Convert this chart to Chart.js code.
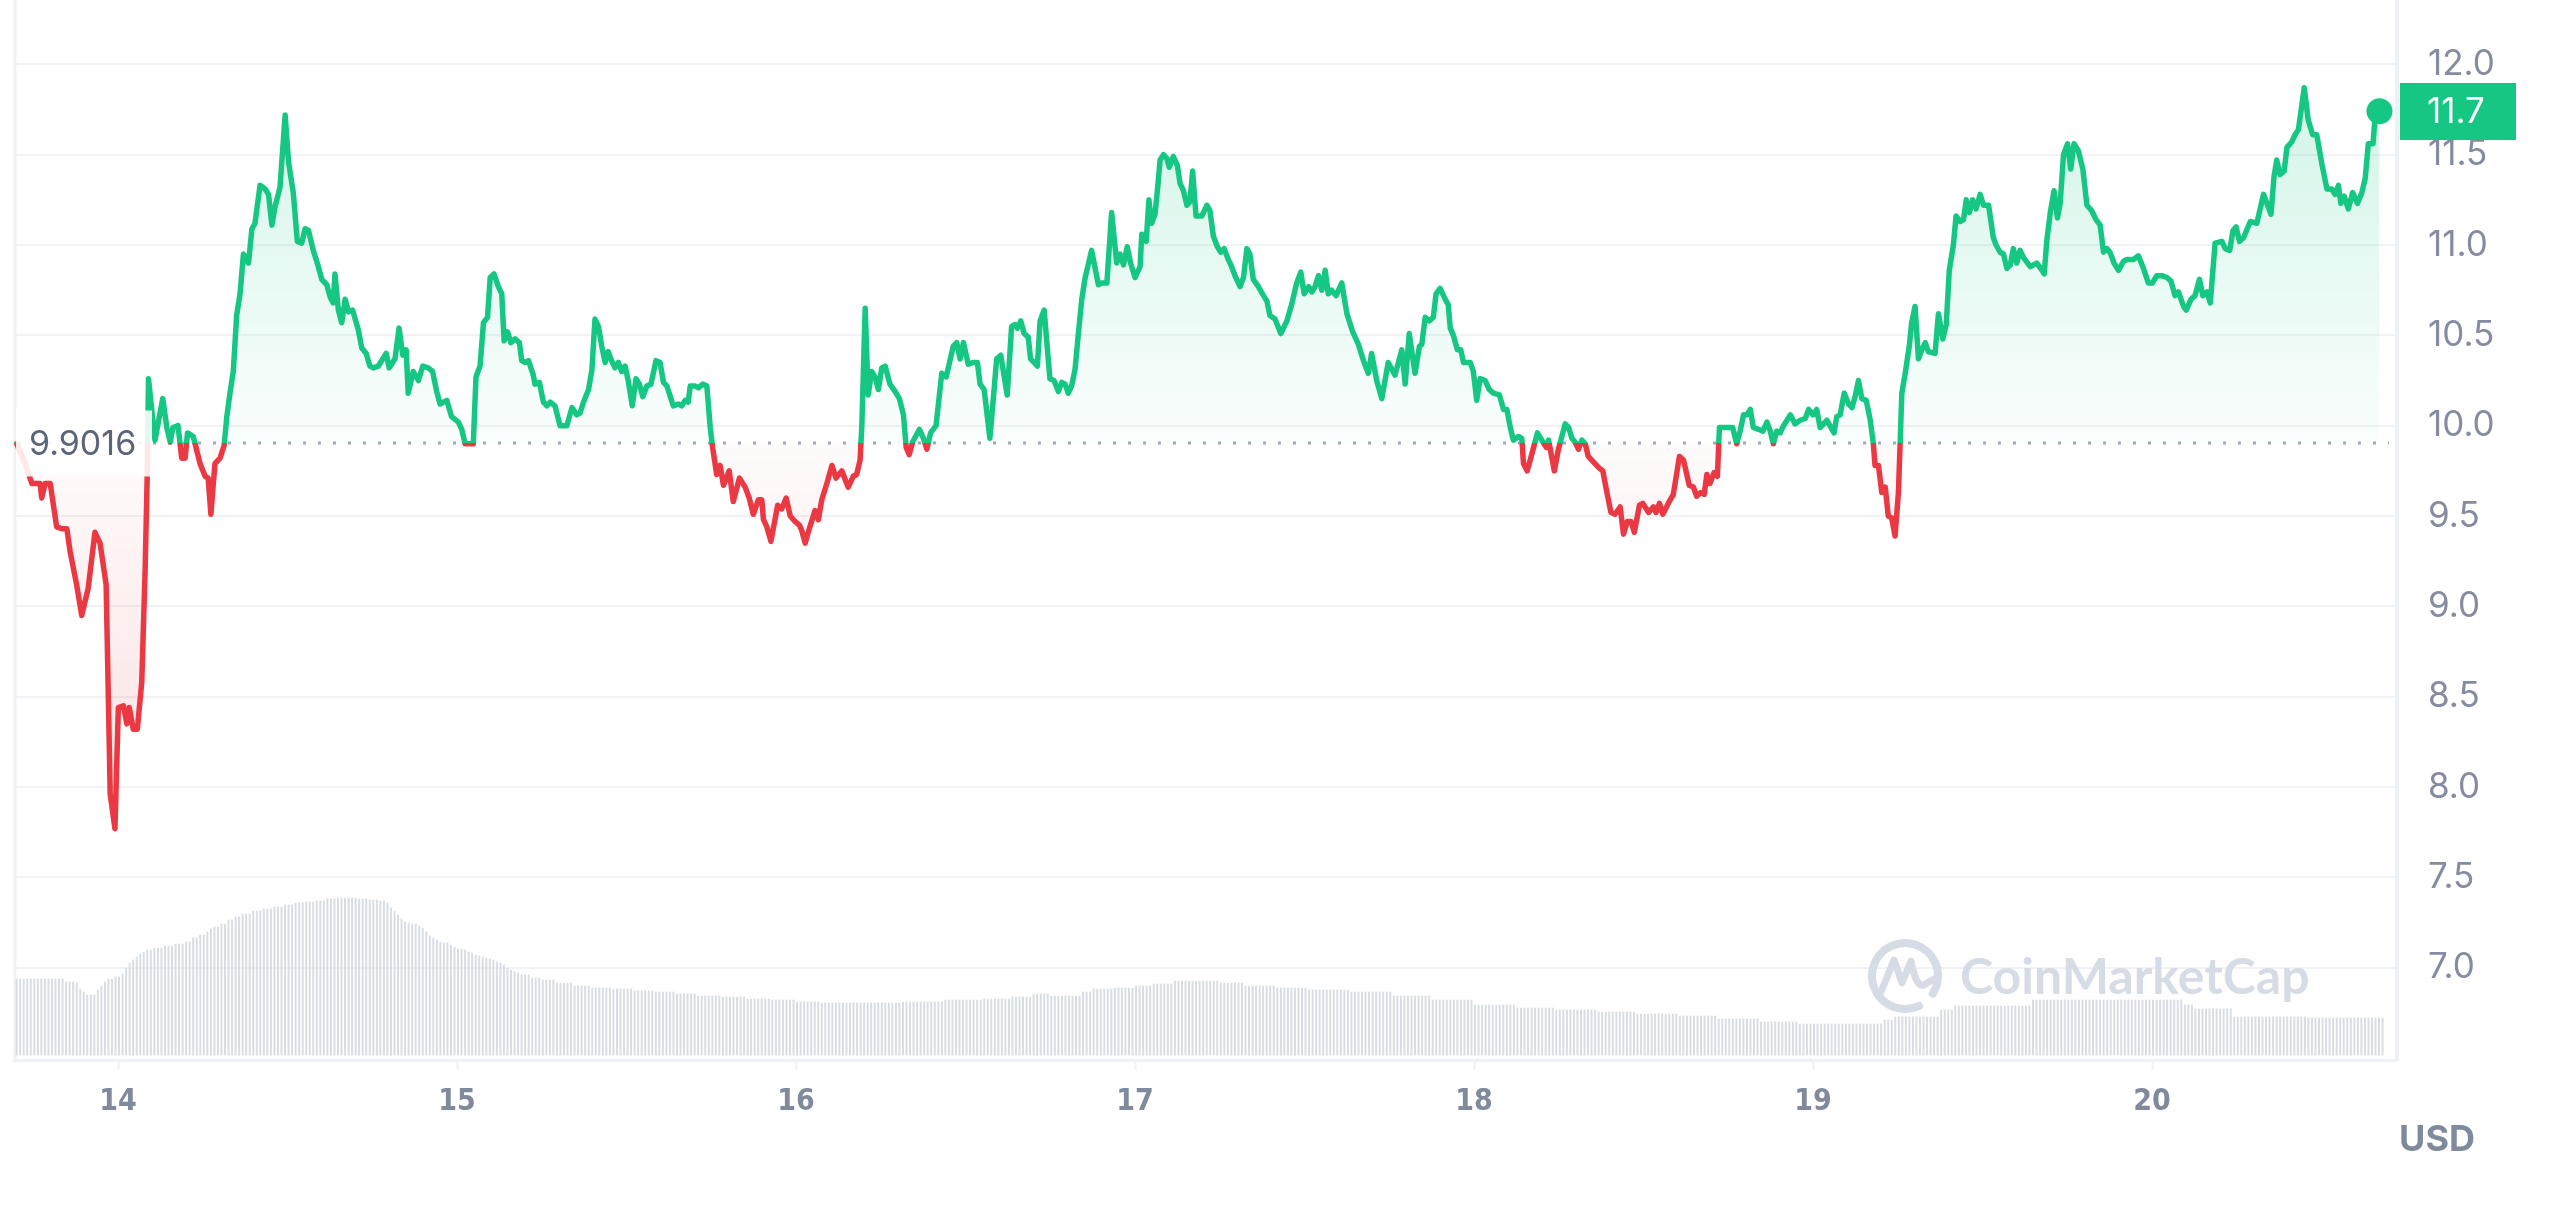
<!DOCTYPE html>
<html>
<head>
<meta charset="utf-8">
<title>Price chart</title>
<script src="https://cdn.jsdelivr.net/npm/chart.js@4.4.1/dist/chart.umd.min.js"></script>
<style>
  html, body { margin: 0; padding: 0; background: #ffffff; }
  #wrap { position: relative; width: 2560px; height: 1206px; }
</style>
</head>
<body>
<div id="wrap"><canvas id="priceChart"></canvas></div>
<script>
// ========== data ==========

// opening price of the period (dotted reference line)
const openPrice = 9.9016;

const dayTicks = [14, 15, 16, 17, 18, 19, 20];
const priceTicks = [7.0, 7.5, 8.0, 8.5, 9.0, 9.5, 10.0, 10.5, 11.0, 11.5, 12.0];

// time in days of the month
const priceTimes = [
  13.701, 13.726, 13.746, 13.770, 13.775, 13.785, 13.800, 13.819, 13.834, 13.849,
  13.859, 13.878, 13.893, 13.912, 13.932, 13.947, 13.965, 13.977, 13.991, 14.001,
  14.016, 14.026, 14.033, 14.045, 14.057, 14.070, 14.080, 14.086, 14.090, 14.100,
  14.109, 14.132, 14.144, 14.154, 14.162, 14.177, 14.188, 14.198, 14.205, 14.222,
  14.242, 14.257, 14.266, 14.274, 14.286, 14.301, 14.313, 14.321, 14.331, 14.340,
  14.350, 14.360, 14.370, 14.385, 14.395, 14.404, 14.419, 14.434, 14.444, 14.454,
  14.463, 14.478, 14.493, 14.503, 14.517, 14.529, 14.542, 14.552, 14.562, 14.576,
  14.591, 14.601, 14.616, 14.626, 14.635, 14.640, 14.650, 14.660, 14.670, 14.680,
  14.692, 14.709, 14.719, 14.732, 14.743, 14.753, 14.768, 14.791, 14.800, 14.817,
  14.829, 14.840, 14.850, 14.856, 14.871, 14.886, 14.899, 14.915, 14.928, 14.940,
  14.950, 14.970, 14.984, 15.004, 15.014, 15.024, 15.048, 15.056, 15.068, 15.078,
  15.090, 15.098, 15.109, 15.122, 15.132, 15.139, 15.149, 15.159, 15.171, 15.184,
  15.191, 15.201, 15.211, 15.225, 15.230, 15.243, 15.255, 15.265, 15.275, 15.289,
  15.304, 15.324, 15.339, 15.353, 15.363, 15.373, 15.388, 15.398, 15.407, 15.417,
  15.427, 15.437, 15.446, 15.456, 15.466, 15.476, 15.486, 15.496, 15.505, 15.517,
  15.528, 15.538, 15.548, 15.560, 15.572, 15.587, 15.599, 15.609, 15.619, 15.638,
  15.653, 15.663, 15.673, 15.682, 15.688, 15.702, 15.712, 15.725, 15.737, 15.747,
  15.754, 15.766, 15.776, 15.786, 15.803, 15.815, 15.833, 15.850, 15.862, 15.874,
  15.889, 15.899, 15.904, 15.914, 15.926, 15.946, 15.958, 15.971, 15.983, 15.997,
  16.010, 16.017, 16.027, 16.036, 16.056, 16.066, 16.076, 16.091, 16.106, 16.118,
  16.135, 16.154, 16.169, 16.179, 16.189, 16.194, 16.204, 16.213, 16.223, 16.233,
  16.243, 16.253, 16.263, 16.277, 16.292, 16.305, 16.317, 16.325, 16.334, 16.344,
  16.364, 16.376, 16.386, 16.397, 16.413, 16.430, 16.443, 16.464, 16.474, 16.484,
  16.494, 16.508, 16.523, 16.535, 16.543, 16.555, 16.572, 16.592, 16.604, 16.623,
  16.636, 16.646, 16.653, 16.663, 16.673, 16.685, 16.692, 16.702, 16.712, 16.720,
  16.732, 16.740, 16.749, 16.761, 16.774, 16.784, 16.794, 16.803, 16.813, 16.823,
  16.833, 16.843, 16.853, 16.872, 16.892, 16.902, 16.917, 16.931, 16.946, 16.956,
  16.966, 16.977, 16.987, 17.000, 17.015, 17.020, 17.033, 17.041, 17.049, 17.059,
  17.067, 17.074, 17.084, 17.094, 17.101, 17.113, 17.125, 17.133, 17.143, 17.153,
  17.162, 17.170, 17.180, 17.197, 17.212, 17.221, 17.231, 17.243, 17.253, 17.263,
  17.275, 17.285, 17.295, 17.310, 17.320, 17.330, 17.339, 17.349, 17.364, 17.379,
  17.389, 17.398, 17.413, 17.430, 17.448, 17.462, 17.477, 17.489, 17.499, 17.512,
  17.522, 17.531, 17.541, 17.551, 17.561, 17.570, 17.580, 17.593, 17.610, 17.625,
  17.642, 17.659, 17.674, 17.688, 17.698, 17.713, 17.728, 17.747, 17.767, 17.787,
  17.797, 17.809, 17.826, 17.839, 17.846, 17.856, 17.868, 17.880, 17.888, 17.900,
  17.915, 17.924, 17.930, 17.939, 17.951, 17.961, 17.969, 17.989, 17.998, 18.008,
  18.018, 18.033, 18.045, 18.057, 18.075, 18.087, 18.097, 18.107, 18.116, 18.131,
  18.141, 18.146, 18.157, 18.173, 18.187, 18.200, 18.213, 18.220, 18.237, 18.249,
  18.269, 18.279, 18.289, 18.298, 18.308, 18.318, 18.328, 18.337, 18.352, 18.367,
  18.380, 18.392, 18.404, 18.416, 18.431, 18.441, 18.452, 18.463, 18.473, 18.488,
  18.498, 18.515, 18.529, 18.537, 18.547, 18.557, 18.573, 18.588, 18.606, 18.618,
  18.635, 18.647, 18.657, 18.669, 18.679, 18.687, 18.696, 18.708, 18.718, 18.724,
  18.734, 18.744, 18.763, 18.775, 18.785, 18.795, 18.805, 18.815, 18.824, 18.839,
  18.852, 18.864, 18.874, 18.883, 18.893, 18.903, 18.913, 18.933, 18.947, 18.962,
  18.977, 18.987, 19.000, 19.011, 19.021, 19.041, 19.062, 19.070, 19.080, 19.092,
  19.105, 19.115, 19.124, 19.134, 19.144, 19.157, 19.169, 19.178, 19.183, 19.193,
  19.203, 19.213, 19.222, 19.232, 19.242, 19.252, 19.262, 19.272, 19.284, 19.291,
  19.301, 19.311, 19.321, 19.331, 19.340, 19.360, 19.370, 19.383, 19.393, 19.402,
  19.414, 19.422, 19.434, 19.444, 19.452, 19.461, 19.471, 19.481, 19.493, 19.503,
  19.518, 19.532, 19.540, 19.552, 19.562, 19.572, 19.582, 19.591, 19.601, 19.611,
  19.621, 19.641, 19.660, 19.672, 19.682, 19.690, 19.700, 19.711, 19.721, 19.729,
  19.739, 19.751, 19.760, 19.770, 19.783, 19.796, 19.808, 19.822, 19.835, 19.847,
  19.857, 19.867, 19.876, 19.888, 19.901, 19.916, 19.926, 19.945, 19.960, 19.975,
  19.989, 20.001, 20.014, 20.029, 20.044, 20.056, 20.068, 20.078, 20.093, 20.101,
  20.115, 20.127, 20.140, 20.150, 20.162, 20.172, 20.186, 20.206, 20.216, 20.229,
  20.239, 20.248, 20.258, 20.270, 20.290, 20.309, 20.329, 20.341, 20.351, 20.360,
  20.368, 20.378, 20.390, 20.398, 20.412, 20.422, 20.432, 20.449, 20.461, 20.474,
  20.486, 20.501, 20.516, 20.530, 20.540, 20.550, 20.557, 20.567, 20.579, 20.592,
  20.606, 20.619, 20.629, 20.638, 20.652, 20.658, 20.671
];

const priceValues = [
  9.9016, 9.79, 9.68, 9.68, 9.60, 9.68, 9.68, 9.44, 9.43, 9.43,
  9.30, 9.12, 8.95, 9.10, 9.41, 9.35, 9.12, 7.96, 7.77, 8.44,
  8.45, 8.35, 8.44, 8.32, 8.32, 8.58, 9.20, 9.71, 10.26, 10.08,
  9.92, 10.15, 9.99, 9.91, 9.99, 10.00, 9.82, 9.82, 9.96, 9.94,
  9.79, 9.72, 9.71, 9.51, 9.79, 9.82, 9.89, 10.05, 10.19, 10.30,
  10.61, 10.73, 10.95, 10.90, 11.09, 11.12, 11.33, 11.31, 11.28, 11.11,
  11.21, 11.32, 11.72, 11.46, 11.29, 11.02, 11.01, 11.09, 11.08, 10.97,
  10.88, 10.81, 10.78, 10.71, 10.68, 10.84, 10.64, 10.57, 10.70, 10.63,
  10.64, 10.53, 10.43, 10.40, 10.33, 10.32, 10.33, 10.40, 10.32, 10.37,
  10.54, 10.39, 10.42, 10.18, 10.30, 10.25, 10.33, 10.32, 10.30, 10.19,
  10.12, 10.14, 10.05, 10.02, 9.98, 9.90, 9.90, 10.27, 10.33, 10.57,
  10.60, 10.82, 10.84, 10.77, 10.73, 10.47, 10.52, 10.46, 10.48, 10.46,
  10.36, 10.35, 10.36, 10.28, 10.23, 10.24, 10.13, 10.11, 10.13, 10.11,
  10.00, 10.00, 10.10, 10.06, 10.07, 10.13, 10.20, 10.31, 10.59, 10.55,
  10.44, 10.35, 10.41, 10.36, 10.32, 10.35, 10.30, 10.33, 10.25, 10.11,
  10.26, 10.23, 10.16, 10.22, 10.23, 10.36, 10.35, 10.24, 10.22, 10.11,
  10.12, 10.11, 10.14, 10.13, 10.22, 10.22, 10.21, 10.23, 10.22, 9.99,
  9.88, 9.73, 9.78, 9.67, 9.75, 9.58, 9.71, 9.66, 9.60, 9.51,
  9.59, 9.59, 9.48, 9.44, 9.36, 9.56, 9.54, 9.60, 9.50, 9.47,
  9.45, 9.42, 9.35, 9.41, 9.53, 9.48, 9.59, 9.68, 9.78, 9.71,
  9.75, 9.66, 9.72, 9.73, 9.81, 9.99, 10.65, 10.17, 10.30, 10.27,
  10.20, 10.32, 10.33, 10.23, 10.19, 10.15, 10.06, 9.88, 9.84, 9.91,
  9.98, 9.93, 9.87, 9.96, 10.00, 10.29, 10.27, 10.44, 10.46, 10.37,
  10.46, 10.34, 10.35, 10.35, 10.23, 10.20, 9.93, 10.37, 10.39, 10.17,
  10.55, 10.56, 10.54, 10.58, 10.51, 10.49, 10.37, 10.35, 10.33, 10.58,
  10.64, 10.46, 10.26, 10.25, 10.19, 10.24, 10.23, 10.18, 10.22, 10.31,
  10.51, 10.70, 10.82, 10.97, 10.78, 10.79, 10.79, 11.18, 10.90, 10.95,
  10.89, 10.99, 10.90, 10.82, 10.88, 11.06, 11.02, 11.25, 11.12, 11.17,
  11.32, 11.47, 11.50, 11.48, 11.43, 11.49, 11.44, 11.34, 11.30, 11.22,
  11.24, 11.41, 11.16, 11.16, 11.22, 11.19, 11.05, 10.99, 10.96, 10.98,
  10.92, 10.88, 10.83, 10.77, 10.82, 10.98, 10.95, 10.81, 10.77, 10.72,
  10.69, 10.61, 10.59, 10.51, 10.58, 10.67, 10.79, 10.85, 10.73, 10.77,
  10.74, 10.77, 10.83, 10.75, 10.86, 10.73, 10.75, 10.72, 10.79, 10.62,
  10.52, 10.45, 10.36, 10.29, 10.40, 10.25, 10.15, 10.35, 10.28, 10.42,
  10.23, 10.51, 10.29, 10.44, 10.45, 10.60, 10.58, 10.60, 10.73, 10.76,
  10.70, 10.67, 10.54, 10.50, 10.42, 10.42, 10.35, 10.35, 10.30, 10.14,
  10.26, 10.25, 10.20, 10.18, 10.17, 10.09, 10.09, 9.99, 9.92, 9.94,
  9.93, 9.79, 9.75, 9.86, 9.96, 9.92, 9.88, 9.92, 9.75, 9.87,
  10.01, 9.99, 9.93, 9.91, 9.87, 9.92, 9.90, 9.83, 9.80, 9.77,
  9.75, 9.63, 9.52, 9.51, 9.55, 9.40, 9.47, 9.47, 9.41, 9.56,
  9.57, 9.52, 9.55, 9.52, 9.57, 9.51, 9.57, 9.62, 9.83, 9.81,
  9.67, 9.66, 9.61, 9.63, 9.62, 9.73, 9.68, 9.74, 9.72, 9.99,
  9.99, 9.99, 9.99, 9.90, 9.97, 10.06, 10.06, 10.09, 9.99, 9.98,
  9.97, 10.02, 9.97, 9.90, 9.97, 9.96, 10.00, 10.06, 10.01, 10.03,
  10.04, 10.09, 10.06, 10.09, 9.99, 10.03, 9.96, 10.05, 10.06, 10.18,
  10.12, 10.10, 10.16, 10.25, 10.15, 10.14, 10.03, 9.90, 9.78, 9.78,
  9.63, 9.66, 9.50, 9.49, 9.39, 9.63, 10.18, 10.29, 10.44, 10.57,
  10.66, 10.37, 10.42, 10.46, 10.41, 10.40, 10.62, 10.48, 10.56, 10.86,
  11.00, 11.16, 11.13, 11.14, 11.25, 11.18, 11.25, 11.20, 11.28, 11.22,
  11.22, 11.04, 11.00, 10.96, 10.95, 10.87, 10.89, 10.98, 10.90, 10.97,
  10.93, 10.88, 10.90, 10.87, 10.84, 11.03, 11.18, 11.30, 11.15, 11.23,
  11.50, 11.56, 11.42, 11.56, 11.52, 11.42, 11.22, 11.19, 11.14, 11.11,
  10.96, 10.98, 10.96, 10.90, 10.86, 10.91, 10.92, 10.92, 10.94, 10.87,
  10.79, 10.79, 10.83, 10.83, 10.82, 10.80, 10.72, 10.74, 10.66, 10.64,
  10.70, 10.72, 10.81, 10.72, 10.74, 10.68, 11.01, 11.02, 10.98, 10.97,
  11.08, 11.10, 11.02, 11.04, 11.13, 11.12, 11.28, 11.22, 11.17, 11.38,
  11.47, 11.39, 11.41, 11.54, 11.57, 11.61, 11.64, 11.87, 11.69, 11.61,
  11.61, 11.45, 11.31, 11.31, 11.28, 11.33, 11.23, 11.27, 11.20, 11.29,
  11.23, 11.29, 11.37, 11.56, 11.56, 11.71, 11.74
];

// volume bars: one bar every 15 minutes, starting at volumeStart
const volumeStart = 13.701;
const volumeStep = 1 / 96;
const volumes = [
  7.6, 7.6, 7.6, 7.6, 7.6, 7.6, 7.6, 7.6, 7.6, 7.6, 7.6, 7.6, 7.6, 7.6,
  7.3, 7.3, 7.3, 7.2, 6.6, 6.3, 6.0, 6.0, 6.0, 6.5, 6.9, 7.3, 7.6, 7.6, 7.8, 7.8,
  8.1, 8.7, 9.2, 9.5, 9.8, 10.1, 10.3, 10.5, 10.5, 10.7, 10.7, 10.7, 10.9, 10.9, 10.9,
  11.1, 11.1, 11.1, 11.3, 11.3, 11.7, 11.7, 12.0, 12.0, 12.3, 12.6, 12.8, 12.8, 13.1, 13.1,
  13.5, 13.5, 13.8, 13.8, 14.1, 14.1, 14.1, 14.4, 14.4, 14.4, 14.6, 14.6, 14.6, 14.8, 14.8, 14.8,
  15.0, 15.0, 15.0, 15.2, 15.2, 15.2, 15.3, 15.3, 15.3, 15.4, 15.4, 15.4, 15.6, 15.6, 15.6,
  15.7, 15.7, 15.7, 15.7, 15.7, 15.7, 15.6, 15.6, 15.6, 15.5, 15.5, 15.5, 15.4, 15.4,
  15.2, 14.7, 14.4, 14.0, 13.6, 13.3, 13.2, 13.1, 13.1, 12.9, 12.7, 12.3, 11.9, 11.7, 11.5, 11.3,
  11.2, 11.2, 11.0, 10.8, 10.6, 10.6, 10.5, 10.3, 10.2, 10.0, 9.9, 9.8, 9.7, 9.6, 9.5, 9.3, 9.2, 9.0,
  8.7, 8.5, 8.3, 8.2, 8.0, 8.0, 8.0, 7.7, 7.7, 7.7,
  7.5, 7.5, 7.5, 7.5, 7.2, 7.2, 7.2, 7.2, 7.2, 6.9, 6.9, 6.9, 6.9, 6.9,
  6.7, 6.7, 6.7, 6.7, 6.7, 6.7, 6.6, 6.6, 6.6, 6.6, 6.6, 6.6,
  6.4, 6.4, 6.4, 6.4, 6.4, 6.4, 6.3, 6.3, 6.3, 6.3, 6.3, 6.3,
  6.1, 6.1, 6.1, 6.1, 6.1, 6.1, 5.9, 5.9, 5.9, 5.9, 5.9, 5.9, 5.9,
  5.8, 5.8, 5.8, 5.8, 5.8, 5.8, 5.8, 5.6, 5.6, 5.6, 5.6, 5.6, 5.6, 5.6,
  5.5, 5.5, 5.5, 5.5, 5.5, 5.5, 5.5, 5.3, 5.3, 5.3, 5.3, 5.3, 5.3, 5.3,
  5.2, 5.2, 5.2, 5.2, 5.2, 5.2, 5.2, 5.2, 5.2, 5.2, 5.2, 5.2,
  5.2, 5.2, 5.2, 5.2, 5.2, 5.2, 5.2, 5.2, 5.2, 5.2, 5.2,
  5.3, 5.3, 5.3, 5.3, 5.3, 5.3, 5.3, 5.3, 5.3, 5.3, 5.3, 5.3,
  5.5, 5.5, 5.5, 5.5, 5.5, 5.5, 5.5, 5.5, 5.5, 5.5, 5.5,
  5.6, 5.6, 5.6, 5.6, 5.6, 5.6, 5.6, 5.6, 5.8, 5.8, 5.8, 5.8, 5.8, 5.8,
  6.1, 6.1, 6.1, 6.1, 6.1, 5.9, 5.9, 5.9, 5.9, 5.9, 5.9, 5.9, 5.9, 5.9,
  6.3, 6.3, 6.3, 6.6, 6.6, 6.6, 6.6, 6.6, 6.6, 6.7, 6.7, 6.7, 6.7, 6.7, 6.7,
  6.9, 6.9, 6.9, 6.9, 6.9, 7.1, 7.1, 7.1, 7.1, 7.1, 7.1,
  7.4, 7.4, 7.4, 7.4, 7.4, 7.4, 7.4, 7.4, 7.4, 7.4, 7.4, 7.4, 7.4,
  7.2, 7.2, 7.2, 7.2, 7.2, 7.2, 7.2, 6.9, 6.9, 6.9, 6.9, 6.9, 6.9, 6.9, 6.9, 6.9,
  6.7, 6.7, 6.7, 6.7, 6.7, 6.7, 6.7, 6.7, 6.7,
  6.5, 6.5, 6.5, 6.5, 6.5, 6.5, 6.5, 6.5, 6.5, 6.5, 6.5, 6.5,
  6.3, 6.3, 6.3, 6.3, 6.3, 6.3, 6.3, 6.3, 6.3, 6.3, 6.3, 6.3,
  5.9, 5.9, 5.9, 5.9, 5.9, 5.9, 5.9, 5.9, 5.9, 5.9, 5.9,
  5.5, 5.5, 5.5, 5.5, 5.5, 5.5, 5.5, 5.5, 5.5, 5.5, 5.5, 5.5,
  5.0, 5.0, 5.0, 5.0, 5.0, 5.0, 5.0, 5.0, 5.0, 5.0, 5.0, 5.0,
  4.7, 4.7, 4.7, 4.7, 4.7, 4.7, 4.7, 4.7, 4.7, 4.7, 4.7,
  4.5, 4.5, 4.5, 4.5, 4.5, 4.5, 4.5, 4.5, 4.5, 4.5, 4.5, 4.5,
  4.3, 4.3, 4.3, 4.3, 4.3, 4.3, 4.3, 4.3, 4.3, 4.3, 4.3,
  4.1, 4.1, 4.1, 4.1, 4.1, 4.1, 4.1, 4.1, 4.1, 4.1, 4.1, 4.1,
  3.9, 3.9, 3.9, 3.9, 3.9, 3.9, 3.9, 3.9, 3.9, 3.9, 3.9,
  3.6, 3.6, 3.6, 3.6, 3.6, 3.6, 3.6, 3.6, 3.6, 3.6, 3.6, 3.6,
  3.3, 3.3, 3.3, 3.3, 3.3, 3.3, 3.3, 3.3, 3.3, 3.3, 3.3,
  3.1, 3.1, 3.1, 3.1, 3.1, 3.1, 3.1, 3.1, 3.1, 3.1, 3.1, 3.1,
  3.1, 3.1, 3.1, 3.1, 3.1, 3.1, 3.1, 3.1, 3.1, 3.1, 3.1, 3.1,
  3.5, 3.5, 3.5, 3.8, 3.8, 3.8, 3.8, 3.8, 3.8, 3.8, 3.8, 3.8, 3.8, 3.8, 3.8, 3.8,
  4.5, 4.5, 4.5, 4.5,
  4.9, 4.9, 4.9, 4.9, 4.9, 4.9, 4.9, 4.9, 4.9, 4.9, 4.9,
  4.9, 4.9, 4.9, 4.9, 4.9, 4.9, 4.9, 4.9, 4.9, 4.9, 4.9,
  5.5, 5.5, 5.5, 5.5, 5.5, 5.5, 5.5, 5.5, 5.5, 5.5, 5.5,
  5.5, 5.5, 5.5, 5.5, 5.5, 5.5, 5.5, 5.5, 5.5, 5.5, 5.5,
  5.5, 5.5, 5.5, 5.5, 5.5, 5.5, 5.5, 5.5, 5.5, 5.5, 5.5,
  5.5, 5.5, 5.5, 5.5, 5.5, 5.5, 5.5, 5.5, 5.5, 5.5,
  5.0, 5.0, 5.0,
  4.6, 4.6, 4.6, 4.6, 4.6, 4.6, 4.6, 4.6, 4.6, 4.6, 4.6,
  3.8, 3.8, 3.8, 3.8, 3.8, 3.8, 3.8, 3.8, 3.8, 3.8, 3.8,
  3.8, 3.8, 3.8, 3.8, 3.8, 3.8, 3.8, 3.8, 3.8, 3.8,
  3.7, 3.7, 3.7, 3.7, 3.7, 3.7, 3.7, 3.7, 3.7, 3.7, 3.7,
  3.7, 3.7, 3.7, 3.7, 3.7, 3.7, 3.7, 3.7, 3.7, 3.7, 3.7
];

// ========== styles ==========

const UP = '#16c784';
const DOWN = '#ea3943';
const AXIS_TEXT = '#858ca2';
const FRAME = '#eef1f5';
const WATERMARK = '#d6dce5';

/**
 * line colour: green above the opening price, red below it
 */
function splitStroke(chart) {
    const { ctx, chartArea, scales } = chart;
    if (!chartArea || !scales.y) return UP;
    const yb = scales.y.getPixelForValue(openPrice);
    const f = Math.min(Math.max((yb - chartArea.top) / (chartArea.bottom - chartArea.top), 0), 1);
    const g = ctx.createLinearGradient(0, chartArea.top, 0, chartArea.bottom);
    g.addColorStop(0, UP);
    g.addColorStop(f, UP);
    g.addColorStop(f, DOWN);
    g.addColorStop(1, DOWN);
    return g;
}

/**
 * soft area fill that fades towards the opening price line
 */
function areaFill(chart, side) {
    const { ctx, chartArea, scales } = chart;
    if (!chartArea || !scales.y) return 'rgba(0,0,0,0)';
    const yb = scales.y.getPixelForValue(openPrice);
    if (side === 'up') {
        const g = ctx.createLinearGradient(0, scales.y.getPixelForValue(12), 0, yb);
        g.addColorStop(0, 'rgba(22, 199, 132, 0.20)');
        g.addColorStop(1, 'rgba(22, 199, 132, 0.02)');
        return g;
    }
    const g = ctx.createLinearGradient(0, yb, 0, scales.y.getPixelForValue(7.7));
    g.addColorStop(0, 'rgba(234, 57, 67, 0.02)');
    g.addColorStop(1, 'rgba(234, 57, 67, 0.16)');
    return g;
}

// ========== plugins ==========

const backdrop = {
    id: 'backdrop',
    beforeDatasetsDraw(chart) {
        const { ctx, chartArea, scales } = chart;
        ctx.save();

        // left frame line
        ctx.strokeStyle = FRAME;
        ctx.lineWidth = 3;
        ctx.beginPath();
        ctx.moveTo(chartArea.left + 1, 0);
        ctx.lineTo(chartArea.left + 1, chartArea.bottom);
        ctx.stroke();

        // dotted opening price line
        const yb = Math.round(scales.y.getPixelForValue(openPrice));
        ctx.strokeStyle = '#a3a9b7';
        ctx.lineWidth = 3;
        ctx.setLineDash([3, 12]);
        ctx.beginPath();
        ctx.moveTo(chartArea.left + 4, yb);
        ctx.lineTo(chartArea.right - 8, yb);
        ctx.stroke();
        ctx.setLineDash([]);

        // watermark logo
        const cx = 1905, cy = 976;
        ctx.strokeStyle = WATERMARK;
        ctx.lineWidth = 8;
        ctx.lineCap = 'round';
        ctx.lineJoin = 'round';
        ctx.beginPath();
        ctx.arc(cx, cy, 33, Math.PI * 0.36, Math.PI * 2.18);
        ctx.stroke();
        ctx.lineWidth = 7;
        ctx.beginPath();
        ctx.moveTo(cx - 24, cy + 16);
        ctx.lineTo(cx - 11, cy - 16);
        ctx.lineTo(cx - 3, cy + 7);
        ctx.lineTo(cx + 6, cy - 15);
        ctx.quadraticCurveTo(cx + 11, cy + 12, cx + 19, cy + 9);
        ctx.lineTo(cx + 29, cy + 3);
        ctx.stroke();

        // watermark text, sized to its measured width in the picture
        ctx.fillStyle = WATERMARK;
        ctx.font = 'bold 48px Lato';
        const w = ctx.measureText('CoinMarketCap').width;
        const size = Math.round(48 * 347 / w);
        ctx.font = 'bold ' + size + 'px Lato';
        ctx.textBaseline = 'alphabetic';
        ctx.textAlign = 'left';
        ctx.fillText('CoinMarketCap', 1960, 994);
        ctx.restore();
    }
};

const overlay = {
    id: 'overlay',
    afterDatasetsDraw(chart) {
        const { ctx, chartArea, scales } = chart;
        const yb = scales.y.getPixelForValue(openPrice);
        ctx.save();
        ctx.fillStyle = 'rgba(255, 255, 255, 0.88)';
        ctx.fillRect(chartArea.left + 2, yb - 33, 136, 66);
        ctx.fillStyle = '#5b6579';
        ctx.font = '34px Inter';
        ctx.textBaseline = 'middle';
        ctx.textAlign = 'left';
        ctx.fillText(String(openPrice), chartArea.left + 15, yb + 1);
        ctx.restore();
    },
    afterDraw(chart) {
        const { ctx, chartArea, scales } = chart;
        const last = priceValues[priceValues.length - 1];
        const yl = scales.y.getPixelForValue(last);
        ctx.save();
        ctx.fillStyle = UP;
        ctx.fillRect(chartArea.right + 3, Math.round(yl - 28.5), 116, 57);
        ctx.fillStyle = '#ffffff';
        ctx.font = '35px Inter';
        ctx.textBaseline = 'middle';
        ctx.textAlign = 'left';
        ctx.fillText(last.toFixed(1), chartArea.right + 30, yl + 1);

        ctx.fillStyle = '#808a9d';
        ctx.font = 'bold 36px Inter';
        ctx.textAlign = 'center';
        ctx.fillText('USD', chartArea.right + 40, 1140);
        ctx.restore();
    }
};

// ========== chart ==========

const lastIndex = priceValues.length - 1;

new Chart(document.getElementById('priceChart'), {
    type: 'line',
    data: {
        datasets: [
            {
                type: 'line',
                label: 'Price',
                data: priceTimes.map((t, i) => ({ x: t, y: priceValues[i] })),
                yAxisID: 'y',
                borderWidth: 5.5,
                borderColor: (c) => splitStroke(c.chart),
                borderJoinStyle: 'round',
                borderCapStyle: 'round',
                tension: 0,
                fill: {
                    target: { value: openPrice },
                    above: (c) => areaFill(c.chart, 'up'),
                    below: (c) => areaFill(c.chart, 'down')
                },
                pointRadius: (c) => (c.dataIndex === lastIndex ? 13 : 0),
                pointBackgroundColor: UP,
                pointBorderWidth: 0,
                pointHoverRadius: 0,
                order: 1
            },
            {
                type: 'bar',
                label: 'Volume',
                data: volumes.map((v, i) => ({ x: volumeStart + i * volumeStep, y: v })),
                yAxisID: 'yv',
                backgroundColor: '#d8dce4',
                barThickness: 1.3,
                order: 2
            }
        ]
    },
    options: {
        responsive: true,
        maintainAspectRatio: false,
        devicePixelRatio: 1,
        animation: false,
        events: [],
        layout: { autoPadding: false, padding: { left: 14, top: 0, right: 0, bottom: 0 } },
        plugins: {
            legend: { display: false },
            tooltip: { enabled: false }
        },
        scales: {
            x: {
                type: 'linear',
                min: 13.6932,
                max: 20.7227,
                offset: false,
                afterBuildTicks: (s) => { s.ticks = dayTicks.map((v) => ({ value: v })); },
                afterFit: (s) => { s.height = 146; s.paddingLeft = 0; s.paddingRight = 0; },
                border: { display: true, color: FRAME, width: 3 },
                grid: {
                    offset: false,
                    drawOnChartArea: false,
                    drawTicks: true,
                    tickLength: 10,
                    tickColor: FRAME,
                    tickWidth: 2
                },
                ticks: {
                    autoSkip: false,
                    maxRotation: 0,
                    padding: 14,
                    color: '#808a9d',
                    font: {
                        family: "'Liberation Sans Narrow', 'DejaVu Sans Condensed', 'Liberation Sans', sans-serif",
                        size: 30,
                        weight: 'bold'
                    },
                    callback: (v) => String(v)
                }
            },
            y: {
                type: 'linear',
                position: 'right',
                min: 6.4898,
                max: 12.3558,
                afterBuildTicks: (s) => { s.ticks = priceTicks.map((v) => ({ value: v })); },
                afterFit: (s) => { s.width = 163; s.paddingTop = 0; s.paddingBottom = 0; },
                border: { display: true, color: FRAME, width: 4 },
                grid: { color: '#f0f2f5', lineWidth: 2, drawTicks: false },
                ticks: {
                    padding: 31,
                    color: AXIS_TEXT,
                    font: { family: 'Inter', size: 35 },
                    callback: (v) => Number(v).toFixed(1)
                }
            },
            yv: {
                type: 'linear',
                display: false,
                min: -0.5,
                max: 105.5
            }
        }
    },
    plugins: [backdrop, overlay]
});
</script>
</body>
</html>
